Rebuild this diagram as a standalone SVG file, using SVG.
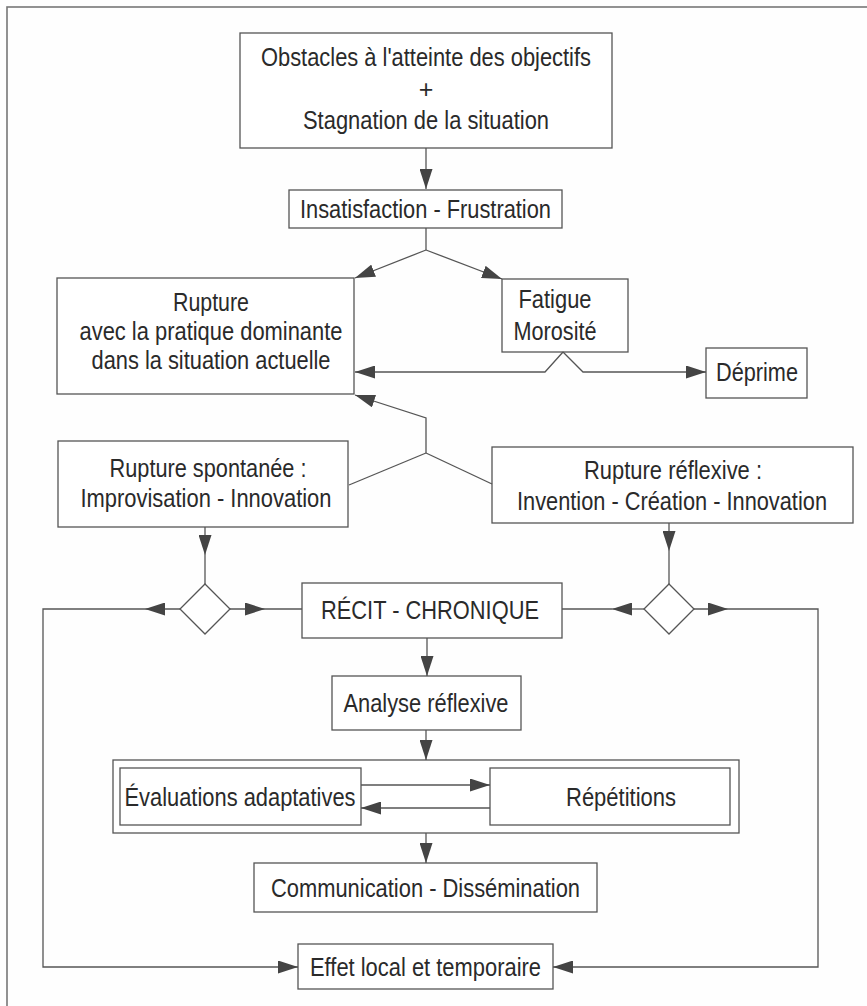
<svg xmlns="http://www.w3.org/2000/svg" width="867" height="1006" viewBox="0 0 867 1006">
  <style>
    .box { fill: #ffffff; stroke: #555; stroke-width: 1.3; }
    .frame { fill: none; stroke: #777; stroke-width: 1.6; }
    .lbl { font-family: "Liberation Sans", Arial, Helvetica, sans-serif; font-size: 25px; fill: #2a2a2a; text-anchor: middle; }
    .conn { fill: none; stroke: #555; stroke-width: 1.3; }
    .arr { marker-end: url(#head); }
  </style>
  <defs>
    <marker id="head" markerUnits="userSpaceOnUse" markerWidth="20" markerHeight="13" refX="20" refY="6.5" orient="auto">
      <path d="M0,0 L20,6.5 L0,13 z" fill="#444"/>
    </marker>
  </defs>

  <rect x="0" y="0" width="867" height="1006" fill="#fefefe"/>
  <!-- outer frame, open on the right and bottom edges of the page -->
  <rect class="frame" x="7" y="7" width="880" height="1020"/>

  <g id="obstacles">
    <rect class="box" x="240" y="33" width="372" height="115"/>
    <text class="lbl" x="426" y="66" textLength="330" lengthAdjust="spacingAndGlyphs">Obstacles à l'atteinte des objectifs</text>
    <text class="lbl" x="426" y="98">+</text>
    <text class="lbl" x="426" y="129" textLength="246" lengthAdjust="spacingAndGlyphs">Stagnation de la situation</text>
  </g>

  <g id="insatisfaction">
    <rect class="box" x="289" y="190" width="273" height="38"/>
    <text class="lbl" x="425.5" y="218" textLength="251" lengthAdjust="spacingAndGlyphs">Insatisfaction - Frustration</text>
  </g>

  <g id="rupture">
    <rect class="box" x="57" y="278" width="297" height="116"/>
    <text class="lbl" x="211" y="311" textLength="76" lengthAdjust="spacingAndGlyphs">Rupture</text>
    <text class="lbl" x="211" y="340" textLength="263" lengthAdjust="spacingAndGlyphs">avec la pratique dominante</text>
    <text class="lbl" x="211" y="369" textLength="239" lengthAdjust="spacingAndGlyphs">dans la situation actuelle</text>
  </g>

  <g id="fatigue">
    <rect class="box" x="502" y="279" width="126" height="73"/>
    <text class="lbl" x="555" y="308" textLength="73" lengthAdjust="spacingAndGlyphs">Fatigue</text>
    <text class="lbl" x="555" y="340" textLength="83" lengthAdjust="spacingAndGlyphs">Morosité</text>
  </g>

  <g id="deprime">
    <rect class="box" x="706" y="348" width="101" height="50"/>
    <text class="lbl" x="757" y="381" textLength="82" lengthAdjust="spacingAndGlyphs">Déprime</text>
  </g>

  <g id="rupture-spontanee">
    <rect class="box" x="58" y="441" width="290" height="86"/>
    <text class="lbl" x="208" y="477" textLength="197" lengthAdjust="spacingAndGlyphs">Rupture spontanée :</text>
    <text class="lbl" x="206" y="507" textLength="251" lengthAdjust="spacingAndGlyphs">Improvisation - Innovation</text>
  </g>

  <g id="rupture-reflexive">
    <rect class="box" x="492" y="447" width="361" height="76"/>
    <text class="lbl" x="673" y="479" textLength="178" lengthAdjust="spacingAndGlyphs">Rupture réflexive :</text>
    <text class="lbl" x="672" y="510" textLength="310" lengthAdjust="spacingAndGlyphs">Invention - Création - Innovation</text>
  </g>

  <g id="decision-left">
    <polygon class="box" points="205,584 230,609 205,634 180,609"/>
  </g>
  <g id="decision-right">
    <polygon class="box" points="669,584 694,609 669,634 644,609"/>
  </g>

  <g id="recit">
    <rect class="box" x="302" y="583" width="260" height="55"/>
    <text class="lbl" x="430" y="619" textLength="218" lengthAdjust="spacingAndGlyphs">RÉCIT - CHRONIQUE</text>
  </g>

  <g id="analyse">
    <rect class="box" x="332" y="676" width="189" height="54"/>
    <text class="lbl" x="426" y="712" textLength="165" lengthAdjust="spacingAndGlyphs">Analyse réflexive</text>
  </g>

  <g id="boucle">
    <rect class="box" x="113" y="760" width="626" height="73"/>
    <g id="evaluations">
      <rect class="box" x="120" y="768" width="241" height="57"/>
      <text class="lbl" x="240" y="806" textLength="231" lengthAdjust="spacingAndGlyphs">Évaluations adaptatives</text>
    </g>
    <g id="repetitions">
      <rect class="box" x="490" y="768" width="240" height="57"/>
      <text class="lbl" x="621" y="806" textLength="110" lengthAdjust="spacingAndGlyphs">Répétitions</text>
    </g>
  </g>

  <g id="communication">
    <rect class="box" x="254" y="863" width="343" height="49"/>
    <text class="lbl" x="425.5" y="897" textLength="309" lengthAdjust="spacingAndGlyphs">Communication - Dissémination</text>
  </g>

  <g id="effet">
    <rect class="box" x="298" y="944" width="255" height="45"/>
    <text class="lbl" x="425.5" y="976" textLength="231" lengthAdjust="spacingAndGlyphs">Effet local et temporaire</text>
  </g>

  <!-- connectors, drawn over the boxes so that nested links stay visible -->
  <g id="connectors">
    <path class="conn arr" d="M426,148 L426,189"/>
    <path class="conn" d="M426,228 L426,250"/>
    <path class="conn arr" d="M426,250 L355,278"/>
    <path class="conn arr" d="M426,250 L502,279"/>

    <path class="conn arr" d="M563,352 L545,372 L355,372"/>
    <path class="conn arr" d="M563,352 L583,372 L706,372"/>

    <path class="conn arr" d="M426,453 L426,418 L355,395"/>
    <path class="conn" d="M426,453 L349,485"/>
    <path class="conn" d="M426,453 L492,484"/>

    <path class="conn arr" d="M205,527 L205,555"/>
    <path class="conn" d="M205,555 L205,584"/>
    <path class="conn arr" d="M669,523 L669,551"/>
    <path class="conn" d="M669,551 L669,584"/>

    <path class="conn arr" d="M180,609 L145,609"/>
    <path class="conn arr" d="M145,609 L43,609 L43,967 L298,967"/>
    <path class="conn arr" d="M230,609 L265,609"/>
    <path class="conn" d="M265,609 L302,609"/>

    <path class="conn arr" d="M644,609 L612,609"/>
    <path class="conn" d="M612,609 L562,609"/>
    <path class="conn arr" d="M694,609 L728,609"/>
    <path class="conn arr" d="M728,609 L818,609 L818,967 L553,967"/>

    <path class="conn arr" d="M427,638 L427,676"/>
    <path class="conn arr" d="M426,730 L426,760"/>
    <path class="conn arr" d="M361,785 L490,785"/>
    <path class="conn arr" d="M490,808 L361,808"/>
    <path class="conn arr" d="M426,833 L426,863"/>
  </g>
</svg>
